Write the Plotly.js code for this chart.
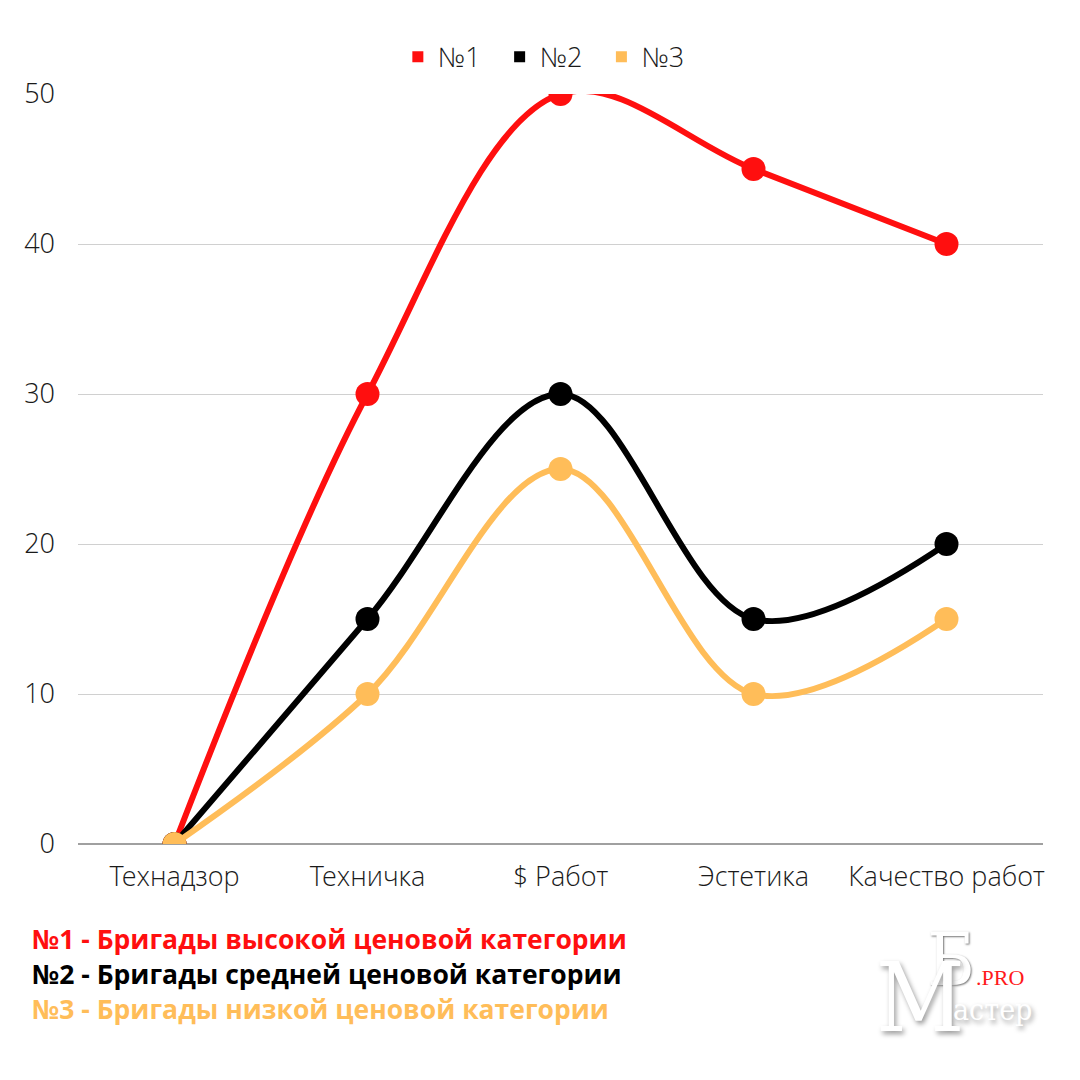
<!DOCTYPE html>
<html>
<head>
<meta charset="utf-8">
<script src="https://cdn.plot.ly/plotly-3.0.1.min.js"></script>
<style>
  html, body { margin: 0; padding: 0; background: #fff; }
  #chart { width: 1080px; height: 1080px; }
</style>
</head>
<body>
<div id="chart"></div>
<script>
// данные
let categories = ['Технадзор', 'Техничка', '$ Работ', 'Эстетика', 'Качество работ'];
let high = [0, 30, 50, 45, 40];
let mid = [0, 15, 30, 15, 20];
let low = [0, 10, 25, 10, 15];

let seriesNames = ['№1', '№2', '№3'];
let colors = ['#ff0f0f', '#000000', '#ffbd59'];
let notes = [
    '№1 - Бригады высокой ценовой категории',
    '№2 - Бригады средней ценовой категории',
    '№3 - Бригады низкой ценовой категории'
];

let lightFont = 'Open Sans Light, Open Sans';

let traces = [high, mid, low].map(function (vals, i) {
    return {
        type: 'scatter',
        mode: 'lines+markers',
        name: seriesNames[i],
        x: categories,
        y: vals,
        showlegend: false,
        line: { color: colors[i], width: 6, shape: 'spline', smoothing: 1 },
        marker: { color: colors[i], size: 24 }
    };
});

// квадратики для легенды (пробелы - чтобы раздвинуть элементы)
seriesNames.forEach(function (n, i) {
    traces.push({
        type: 'scatter',
        mode: 'markers',
        name: n + '\u00a0\u00a0',
        x: [categories[0]],
        y: [null],
        marker: { color: colors[i], symbol: 'square', size: 11 }
    });
});

let annotations = notes.map(function (t, i) {
    return {
        xref: 'paper', yref: 'paper',
        x: -0.05, y: -0.127 - i * 0.0467,
        xanchor: 'left', yanchor: 'middle',
        showarrow: false,
        text: '<b>' + t + '</b>',
        font: { family: 'Open Sans', size: 26.5, color: colors[i] }
    };
});

// логотип в правом нижнем углу
let logoShadow = '2px 3px 5px #9a9a9a';
annotations.push({
    xref: 'paper', yref: 'paper', x: 0.905, y: -0.155,
    xanchor: 'center', yanchor: 'middle', showarrow: false,
    text: 'Б', font: { family: 'DejaVu Serif Condensed', size: 72, color: '#ffffff', shadow: '1px 1px 2px #777' }
});
annotations.push({
    xref: 'paper', yref: 'paper', x: 0.873, y: -0.205,
    xanchor: 'center', yanchor: 'middle', showarrow: false,
    text: 'М', font: { family: 'DejaVu Serif Condensed', size: 96, color: '#ffffff', shadow: logoShadow }
});
annotations.push({
    xref: 'paper', yref: 'paper', x: 0.948, y: -0.22,
    xanchor: 'center', yanchor: 'middle', showarrow: false,
    text: 'астер', font: { family: 'DejaVu Serif Condensed', size: 30, color: '#ffffff', shadow: logoShadow }
});
annotations.push({
    xref: 'paper', yref: 'paper', x: 0.955, y: -0.178,
    xanchor: 'center', yanchor: 'middle', showarrow: false,
    text: '.PRO', font: { family: 'Liberation Serif', size: 22, color: '#ff1a1a' }
});

let layout = {
    width: 1080,
    height: 1080,
    paper_bgcolor: '#ffffff',
    plot_bgcolor: '#ffffff',
    margin: { l: 78, r: 37, t: 94, b: 236 },
    font: { family: lightFont, size: 27, color: '#1a1a1a', weight: 300 },
    showlegend: true,
    legend: {
        orientation: 'h',
        x: 0.49, xanchor: 'center',
        y: 1.049, yanchor: 'middle',
        font: { family: lightFont, size: 27, color: '#1a1a1a', weight: 300 },
        itemwidth: 30,
        traceorder: 'normal'
    },
    xaxis: {
        type: 'category',
        range: [-0.5, 4.5],
        showgrid: false,
        zeroline: false,
        showline: false,
        ticks: '',
        ticklabelstandoff: 14,
        tickfont: { family: lightFont, size: 27, color: '#1a1a1a', weight: 300 }
    },
    yaxis: {
        range: [0, 50],
        dtick: 10,
        showgrid: true,
        gridcolor: '#d0d0d0',
        gridwidth: 1,
        zeroline: true,
        zerolinecolor: '#a0a0a0',
        zerolinewidth: 1.5,
        ticks: '',
        ticklabelstandoff: 22,
        tickfont: { family: lightFont, size: 27, color: '#1a1a1a', weight: 300 }
    },
    annotations: annotations
};

Plotly.newPlot('chart', traces, layout, { displayModeBar: false });
</script>
</body>
</html>
